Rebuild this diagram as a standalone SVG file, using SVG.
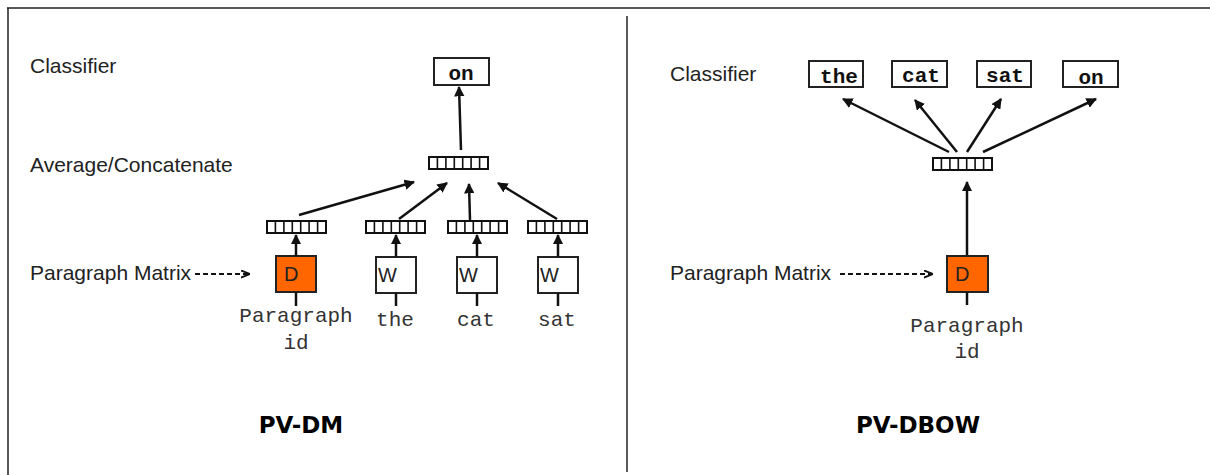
<svg xmlns="http://www.w3.org/2000/svg" xmlns:xlink="http://www.w3.org/1999/xlink" width="1210" height="475" viewBox="0 0 1210 475">
<style>
.lbl{font-family:"Liberation Sans",Arial,sans-serif;font-size:21px;fill:#222}
.mono{font-family:"Liberation Mono","Courier New",monospace;font-size:21px;fill:#333;text-anchor:middle}
.bmono{font-family:"Liberation Mono","Courier New",monospace;font-size:21px;font-weight:bold;fill:#111;text-anchor:middle}
.title{font-family:"DejaVu Sans",sans-serif;font-size:23px;font-weight:bold;fill:#000;text-anchor:middle}
.box{fill:#fff;stroke:#222;stroke-width:2}
.dbox{fill:#ff6600;stroke:#222;stroke-width:2}
.boxtxt{font-family:"Liberation Sans",Arial,sans-serif;font-size:20px;fill:#222}
.arr{stroke:#111;stroke-width:2.5;fill:none;marker-end:url(#ah)}
.stem{stroke:#111;stroke-width:2.5;fill:none}
.dash{stroke:#111;stroke-width:2;fill:none;stroke-dasharray:5 3;marker-end:url(#ah2)}
.frame{stroke:#222;stroke-width:1.5;fill:none}
</style>
<defs>
<marker id="ah" viewBox="0 0 10 10" refX="9" refY="5" markerWidth="4.2" markerHeight="4.2" orient="auto" markerUnits="strokeWidth">
<path d="M0,0 L10,5 L0,10 z" fill="#111"/>
</marker>
<marker id="ah2" viewBox="0 0 10 10" refX="9" refY="5" markerWidth="4.5" markerHeight="4.5" orient="auto" markerUnits="strokeWidth">
<path d="M0,1 L10,5 L0,9" fill="none" stroke="#111" stroke-width="2"/>
</marker>
<g id="vec">
<rect x="0" y="0" width="59" height="12" fill="#fff" stroke="#111" stroke-width="2"/>
<path d="M8.4 0V12M16.9 0V12M25.3 0V12M33.7 0V12M42.1 0V12M50.6 0V12" stroke="#111" stroke-width="1.6"/>
</g>
</defs>
<rect width="1210" height="475" fill="#fff"/>
<g id="frame">
<path class="frame" d="M7 8H1210M8 8V475"/>
<path class="frame" d="M627 16V472"/>
</g>
<g id="labels-left">
<text class="lbl" x="30" y="73">Classifier</text>
<text class="lbl" x="30" y="172">Average/Concatenate</text>
<text class="lbl" x="30" y="280">Paragraph Matrix</text>
<text class="title" x="301" y="433">PV-DM</text>
</g>
<g id="dm-on"><rect class="box" x="434" y="58" width="55" height="27"/><text class="bmono" x="461" y="80">on</text></g>
<g id="dm-avg"><use xlink:href="#vec" x="429" y="157"/></g>
<g id="dm-v1"><use xlink:href="#vec" x="267" y="221"/></g>
<g id="dm-v2"><use xlink:href="#vec" x="366" y="221"/></g>
<g id="dm-v3"><use xlink:href="#vec" x="448" y="221"/></g>
<g id="dm-v4"><use xlink:href="#vec" x="528" y="221"/></g>
<g id="dm-D"><rect class="dbox" x="276" y="256" width="40" height="36"/><text class="boxtxt" x="284" y="281">D</text></g>
<g id="dm-W1"><rect class="box" x="376" y="257" width="40" height="36"/><text class="boxtxt" x="378" y="282">W</text></g>
<g id="dm-W2"><rect class="box" x="457" y="257" width="40" height="36"/><text class="boxtxt" x="459" y="282">W</text></g>
<g id="dm-W3"><rect class="box" x="538" y="257" width="40" height="36"/><text class="boxtxt" x="540" y="282">W</text></g>
<g id="dm-inputs">
<text class="mono" x="296" y="322">Paragraph</text>
<text class="mono" x="296" y="349">id</text>
<text class="mono" x="395" y="326">the</text>
<text class="mono" x="476" y="326">cat</text>
<text class="mono" x="557" y="326">sat</text>
</g>
<g id="labels-right">
<text class="lbl" x="670" y="81">Classifier</text>
<text class="lbl" x="670" y="280">Paragraph Matrix</text>
<text class="title" x="918" y="433">PV-DBOW</text>
</g>
<g id="dbow-the"><rect class="box" x="809" y="61" width="54" height="26"/><text class="bmono" x="839" y="83">the</text></g>
<g id="dbow-cat"><rect class="box" x="892" y="61" width="55" height="26"/><text class="bmono" x="921" y="82">cat</text></g>
<g id="dbow-sat"><rect class="box" x="977" y="61" width="54" height="26"/><text class="bmono" x="1005" y="82">sat</text></g>
<g id="dbow-on"><rect class="box" x="1063" y="61" width="55" height="26"/><text class="bmono" x="1091" y="84">on</text></g>
<g id="dbow-vec"><use xlink:href="#vec" x="933" y="158"/></g>
<g id="dbow-D"><rect class="dbox" x="947" y="256" width="41" height="36"/><text class="boxtxt" x="955" y="281">D</text></g>
<g id="dbow-input">
<text class="mono" x="967" y="332">Paragraph</text>
<text class="mono" x="967" y="358">id</text>
</g>
<g id="connectors">
<path class="arr" d="M461 150L459 87"/>
<path class="arr" d="M299 215L414 182"/>
<path class="arr" d="M399 219L447 183"/>
<path class="arr" d="M470 220L469 184"/>
<path class="arr" d="M557 219L498 183"/>
<path class="arr" d="M296 256V235"/>
<path class="arr" d="M396 257V235"/>
<path class="arr" d="M477 257V235"/>
<path class="arr" d="M558 257V235"/>
<path class="stem" d="M296 292V306M396 293V306M477 293V306M558 293V306"/>
<path class="dash" d="M195 274H249"/>
<path class="arr" d="M949 152L843 99"/>
<path class="arr" d="M957 152L915 100"/>
<path class="arr" d="M967 152L1001 99"/>
<path class="arr" d="M983 152L1096 99"/>
<path class="arr" d="M967 255V182"/>
<path class="stem" d="M967 292V305"/>
<path class="dash" d="M840 274H932"/>
</g>
</svg>
